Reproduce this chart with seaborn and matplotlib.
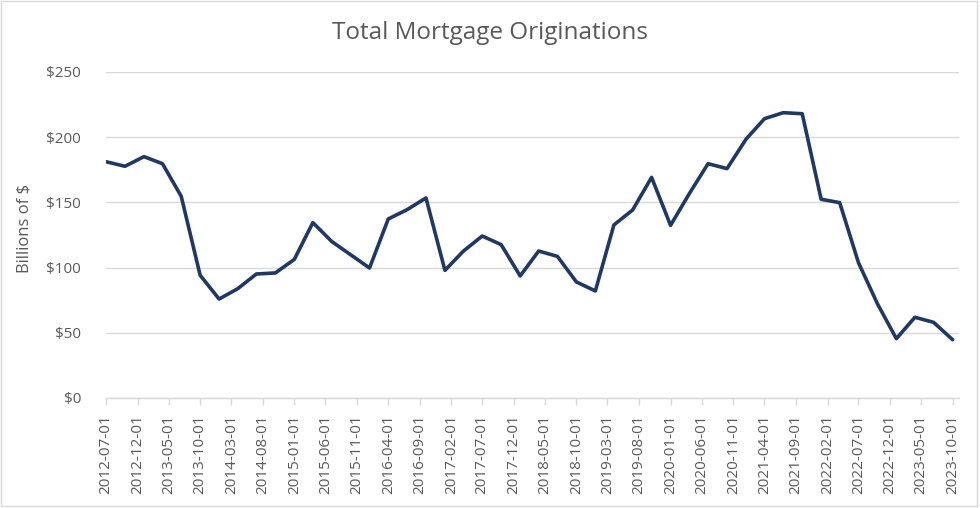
import pandas as pd
import seaborn as sns
import matplotlib.pyplot as plt
import matplotlib.dates as mdates
from matplotlib.patches import Rectangle

# --- data (quarterly, billions of $) ---
start_date = "2012-07-01"
end_date = "2023-10-01"
originations = [
    181.2, 177.7, 185.1, 179.7, 154.7, 94.1, 75.9, 83.8, 95.1, 95.9,
    106.3, 134.5, 120.1, 109.9, 99.7, 137.3, 144.4, 153.4, 97.9, 112.7,
    124.2, 117.6, 93.6, 112.7, 108.6, 89.0, 82.1, 132.7, 144.2, 169.2,
    132.4, 156.7, 179.7, 175.9, 198.4, 214.2, 218.8, 218.0, 152.4, 149.8,
    103.8, 72.3, 45.5, 61.9, 58.0, 44.7,
]
y_ticks = [0, 50, 100, 150, 200, 250]

dates = pd.date_range(start_date, end_date, freq="QS-JAN")
df = pd.DataFrame({"date": dates, "value": originations})
tick_dates = pd.date_range(start_date, end_date, freq="5MS")

GREY = "#595959"
GRID = "#D9D9D9"
LINE = "#1F3864"

sns.set_theme(style="white")
plt.rcParams["font.family"] = ["Open Sans", "DejaVu Sans"]

fig = plt.figure(figsize=(9.8, 5.08), dpi=100)
ax = fig.add_axes([106 / 980, 1 - 398 / 508, 853 / 980, 326 / 508])

sns.lineplot(data=df, x="date", y="value", color=LINE, linewidth=2.6, ax=ax,
             solid_capstyle="round", solid_joinstyle="round")

ax.set_ylim(0, 250)
ax.set_xlim(pd.Timestamp(start_date), pd.Timestamp("2023-11-01"))
ax.set_yticks(y_ticks)
ax.yaxis.set_major_formatter(plt.FuncFormatter(lambda v, _: f"${v:,.0f}"))
ax.set_xticks(tick_dates)
ax.xaxis.set_major_formatter(mdates.DateFormatter("%Y-%m-%d"))
ax.grid(axis="y", color=GRID, linewidth=1)
ax.set_axisbelow(True)

for side in ["top", "right", "left"]:
    ax.spines[side].set_visible(False)
ax.spines["bottom"].set_color(GRID)
ax.spines["bottom"].set_linewidth(1)

ax.tick_params(axis="x", bottom=True, length=5, width=1, color=GRID,
               labelsize=11, labelcolor=GREY, rotation=90, pad=7)
ax.tick_params(axis="y", left=False, labelsize=11, labelcolor=GREY, pad=12)
ax.set_xlabel("")
ax.set_ylabel("")

fig.text(25 / 980, 1 - 228 / 508, "Billions of $", rotation=90, ha="center",
         va="center", fontsize=12, color=GREY)
fig.text(0.5, 1 - 33 / 508, "Total Mortgage Originations", ha="center",
         va="center", fontsize=17.5, color=GREY)

# light chart border
fig.patches.append(Rectangle((1 / 980, 2 / 508), 976 / 980, 505 / 508,
                             transform=fig.transFigure, fill=False,
                             edgecolor=GRID, linewidth=1))

fig.savefig("out.png", dpi=100)
